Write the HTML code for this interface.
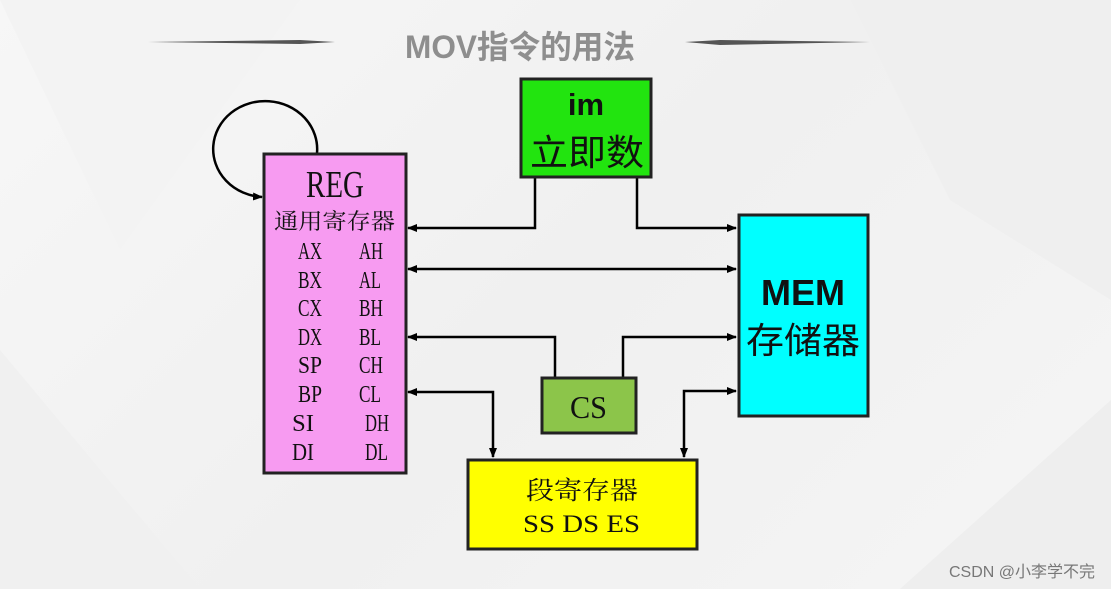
<!DOCTYPE html>
<html><head><meta charset="utf-8"><style>
body{margin:0;width:1111px;height:589px;overflow:hidden;background:linear-gradient(135deg,#f7f7f7,#f0f0f0 50%,#f5f5f5);}
svg{display:block}
</style></head><body>
<svg width="1111" height="589" xmlns="http://www.w3.org/2000/svg" font-family="'Liberation Serif','Noto Serif CJK SC',serif">
<defs>
<marker id="b" markerWidth="10" markerHeight="10" refX="9" refY="5" orient="auto-start-reverse" markerUnits="userSpaceOnUse"><path d="M0,1 L10,5 L0,9 z" fill="#000"/></marker>
</defs>
<polygon points="0,0 300,0 120,250" fill="#f3f3f3"/>
<polygon points="850,0 1111,0 1111,300 950,200" fill="#efefef"/>
<polygon points="0,350 200,589 0,589" fill="#f0f0f0"/>
<polygon points="900,589 1111,400 1111,589" fill="#eeeeee"/>
<!-- title -->
<path d="M148,42 L300,40 L335,42 L300,44 Z" fill="#555"/>
<path d="M870,42 L720,40 L685,42 L720,45 Z" fill="#555"/>
<text x="405" y="58" textLength="230" lengthAdjust="spacingAndGlyphs" font-family="'Liberation Sans','Noto Sans CJK SC',sans-serif" font-size="32" fill="#8e8e8e" font-weight="bold">MOV指令的用法</text>
<g stroke="#000" stroke-width="2.5" fill="none">
<path d="M317,153 A52,48 0 1 0 262,197" marker-end="url(#b)"/>
<polyline points="535,177 535,228 408,228" marker-end="url(#b)"/>
<polyline points="637,177 637,228 736,228" marker-end="url(#b)"/>
<line x1="408" y1="269" x2="736" y2="269" marker-end="url(#b)" marker-start="url(#b)"/>
<polyline points="555,377 555,337 408,337" marker-end="url(#b)"/>
<polyline points="623,377 623,337 736,337" marker-end="url(#b)"/>
<polyline points="408,392 493,392 493,457" marker-end="url(#b)" marker-start="url(#b)"/>
<polyline points="736,391 684,391 684,457" marker-end="url(#b)" marker-start="url(#b)"/>
</g>
<!-- boxes -->
<rect x="264" y="154" width="142" height="319" fill="#f79bf1" stroke="#222" stroke-width="3"/>
<rect x="521" y="79" width="130" height="98" fill="#22e40f" stroke="#222" stroke-width="3"/>
<rect x="739" y="215" width="129" height="201" fill="#00ffff" stroke="#222" stroke-width="3"/>
<rect x="542" y="378" width="94" height="55" fill="#8cc54a" stroke="#222" stroke-width="3"/>
<rect x="468" y="460" width="229" height="89" fill="#ffff00" stroke="#222" stroke-width="3"/>
<!-- texts -->
<text x="306" y="197" textLength="58" lengthAdjust="spacingAndGlyphs" font-size="38" fill="#111">REG</text>
<text x="274" y="229" textLength="121" lengthAdjust="spacingAndGlyphs" font-size="22" fill="#111">通用寄存器</text>
<g font-size="24" fill="#111" lengthAdjust="spacingAndGlyphs">
<text x="298" y="259" textLength="24" lengthAdjust="spacingAndGlyphs">AX</text><text x="359" y="259" textLength="24" lengthAdjust="spacingAndGlyphs">AH</text>
<text x="298" y="288" textLength="24" lengthAdjust="spacingAndGlyphs">BX</text><text x="359" y="288" textLength="22" lengthAdjust="spacingAndGlyphs">AL</text>
<text x="298" y="316" textLength="24" lengthAdjust="spacingAndGlyphs">CX</text><text x="359" y="316" textLength="24" lengthAdjust="spacingAndGlyphs">BH</text>
<text x="298" y="345" textLength="24" lengthAdjust="spacingAndGlyphs">DX</text><text x="359" y="345" textLength="22" lengthAdjust="spacingAndGlyphs">BL</text>
<text x="298" y="373" textLength="24" lengthAdjust="spacingAndGlyphs">SP</text><text x="359" y="373" textLength="24" lengthAdjust="spacingAndGlyphs">CH</text>
<text x="298" y="402" textLength="24" lengthAdjust="spacingAndGlyphs">BP</text><text x="359" y="402" textLength="22" lengthAdjust="spacingAndGlyphs">CL</text>
<text x="292" y="431" textLength="22" lengthAdjust="spacingAndGlyphs">SI</text><text x="365" y="431" textLength="24" lengthAdjust="spacingAndGlyphs">DH</text>
<text x="292" y="460" textLength="22" lengthAdjust="spacingAndGlyphs">DI</text><text x="365" y="460" textLength="23" lengthAdjust="spacingAndGlyphs">DL</text>
</g>
<text x="586" y="115" text-anchor="middle" font-family="'Liberation Sans',sans-serif" font-weight="bold" font-size="31" fill="#111">im</text>
<text x="530" y="165" textLength="114" lengthAdjust="spacingAndGlyphs" font-family="'Liberation Sans','Noto Sans CJK SC',sans-serif" font-size="36" fill="#111">立即数</text>
<text x="803" y="305" text-anchor="middle" font-family="'Liberation Sans',sans-serif" font-weight="bold" font-size="36" fill="#111">MEM</text>
<text x="746" y="353" textLength="114" lengthAdjust="spacingAndGlyphs" font-family="'Liberation Sans','Noto Sans CJK SC',sans-serif" font-size="36" fill="#111">存储器</text>
<text x="570" y="418" textLength="37" lengthAdjust="spacingAndGlyphs" font-size="32" fill="#111">CS</text>
<text x="526" y="499" textLength="112" lengthAdjust="spacingAndGlyphs" font-size="25" fill="#111">段寄存器</text>
<text x="523" y="532" textLength="117" lengthAdjust="spacingAndGlyphs" font-size="25" fill="#111">SS DS ES</text>
<text x="1095" y="577" text-anchor="end" font-family="'Liberation Sans','Noto Sans CJK SC',sans-serif" font-size="16" fill="#777">CSDN @小李学不完</text>
</svg>
</body></html>
